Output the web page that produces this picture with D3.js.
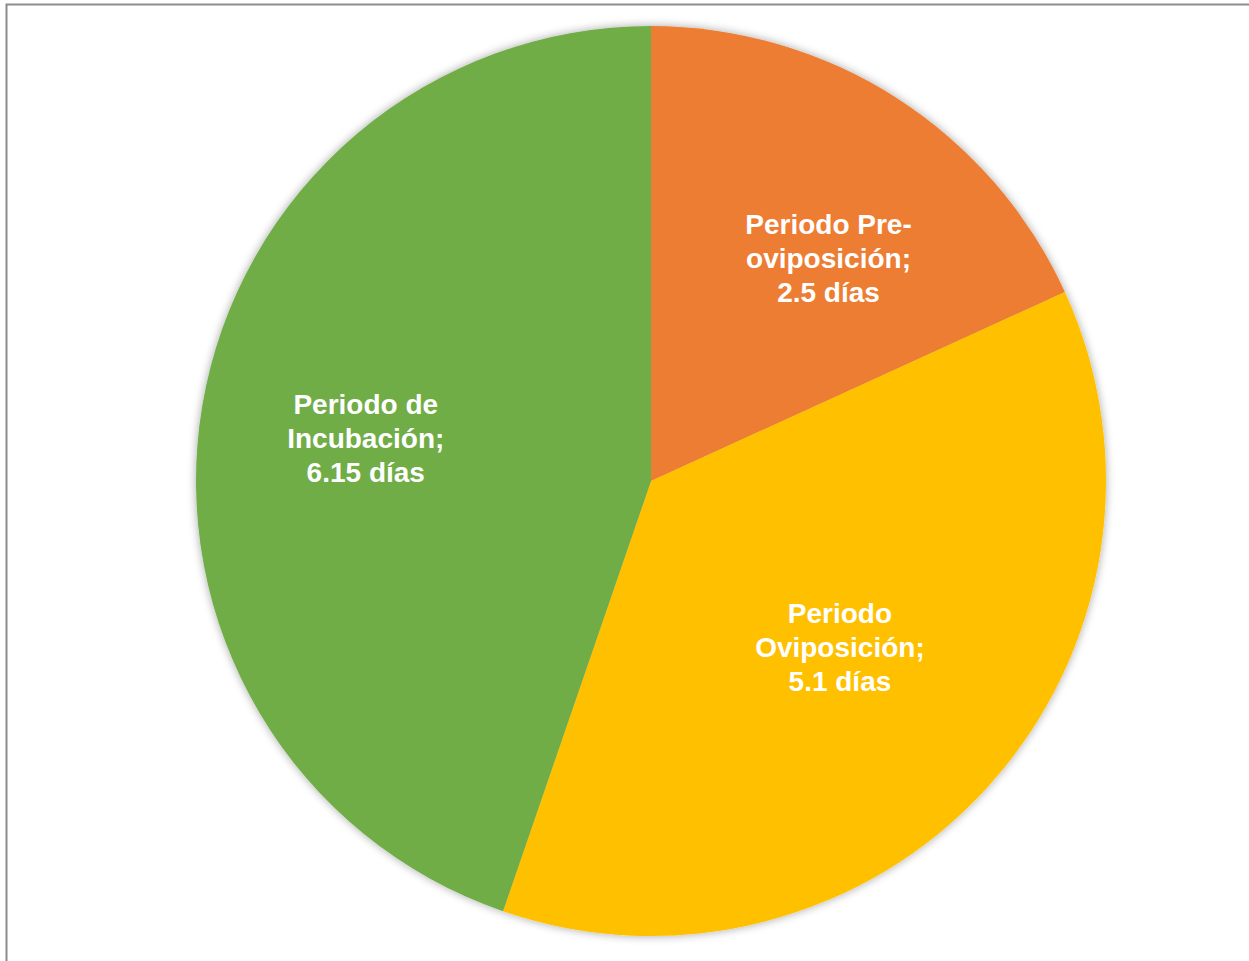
<!DOCTYPE html>
<html>
<head>
<meta charset="utf-8">
<script src="https://cdn.jsdelivr.net/npm/d3@7"></script>
<style>
  body { margin: 0; background: #fff; }
  svg { display: block; }
</style>
</head>
<body>
<div id="chart"></div>
<script>
// data
var categories = ["Periodo Pre-oviposición", "Periodo Oviposición", "Periodo de Incubación"];
var values = [2.5, 5.1, 6.15];
var labelLines = [
  ["Periodo Pre-", "oviposición;", "2.5 días"],
  ["Periodo", "Oviposición;", "5.1 días"],
  ["Periodo de", "Incubación;", "6.15 días"]
];
var colors = ["#ED7D31", "#FFC000", "#70AD47"];

var width = 1249, height = 961;
var cx = 651, cy = 481, radius = 455;

var svg = d3.select("#chart").append("svg")
  .attr("width", width).attr("height", height);

// soft shadow round the pie
var defs = svg.append("defs");
var f = defs.append("filter").attr("id", "shadow")
  .attr("x", "-10%").attr("y", "-10%").attr("width", "120%").attr("height", "120%");
f.append("feGaussianBlur").attr("in", "SourceAlpha").attr("stdDeviation", 5).attr("result", "blur");
f.append("feOffset").attr("dx", 0).attr("dy", 0).attr("result", "off");
f.append("feComponentTransfer").append("feFuncA").attr("type", "linear").attr("slope", 0.35);
var merge = f.append("feMerge");
merge.append("feMergeNode");
merge.append("feMergeNode").attr("in", "SourceGraphic");

// chart frame (runs off right and bottom)
svg.append("rect")
  .attr("x", 6.5).attr("y", 4.5)
  .attr("width", width + 20).attr("height", height + 20)
  .attr("fill", "none")
  .attr("stroke", "#8c8c8c")
  .attr("stroke-width", 2);

var data = categories.map(function(c, i) {
  return {name: c, value: values[i], lines: labelLines[i], color: colors[i]};
});

var pie = d3.pie().sort(null).value(function(d) { return d.value; });
var arc = d3.arc().innerRadius(0).outerRadius(radius);
var labelArc = d3.arc().innerRadius(radius * 0.6).outerRadius(radius * 0.64);

var g = svg.append("g").attr("transform", "translate(" + cx + "," + cy + ")");

g.append("g").attr("filter", "url(#shadow)")
  .selectAll("path")
  .data(pie(data))
  .enter()
  .append("path")
  .attr("d", arc)
  .attr("fill", function(d) { return d.data.color; });

// excel moves the labels a bit to fit them in the slices
var nudge = [[25, 14], [-20, -24], [-7, 4]];
var lineH = 34;

var labels = g.selectAll("text.lbl")
  .data(pie(data))
  .enter()
  .append("text")
  .attr("class", "lbl")
  .attr("text-anchor", "middle")
  .attr("font-family", "Liberation Sans, Arial, sans-serif")
  .attr("font-weight", "bold")
  .attr("font-size", 28)
  .attr("fill", "#ffffff")
  .attr("transform", function(d, i) {
    var c = labelArc.centroid(d);
    return "translate(" + (c[0] + nudge[i][0]) + "," + (c[1] + nudge[i][1]) + ")";
  });

labels.selectAll("tspan")
  .data(function(d) { return d.data.lines; })
  .enter()
  .append("tspan")
  .attr("x", 0)
  .attr("y", function(d, i, nodes) { return (i - (nodes.length - 1) / 2) * lineH + 10; })
  .text(function(d) { return d; });
</script>
</body>
</html>
